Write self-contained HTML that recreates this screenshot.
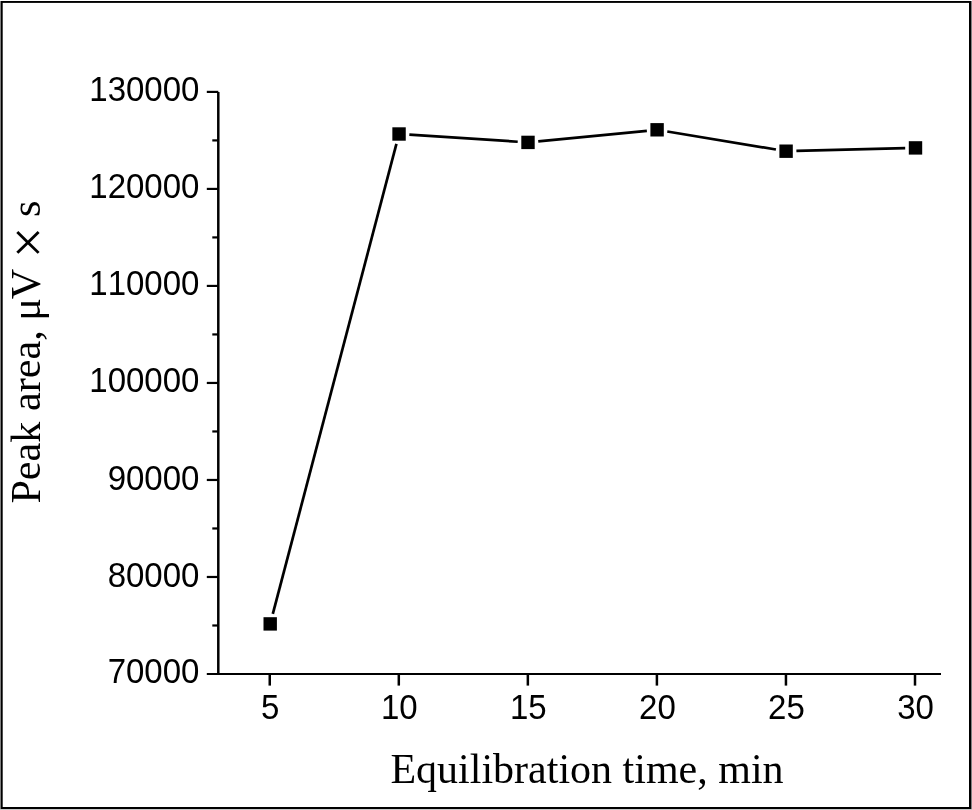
<!DOCTYPE html>
<html><head><meta charset="utf-8"><title>Peak area vs equilibration time</title>
<style>
html,body{margin:0;padding:0;background:#fff;}
body{width:972px;height:810px;overflow:hidden;}
svg{display:block;will-change:transform;}
text{font-kerning:none;font-feature-settings:"kern" 0;}
.n{font-family:"Liberation Sans",Arial,sans-serif;font-size:33px;fill:#000;}
.yt text{font-family:"Liberation Serif","Times New Roman",serif;font-size:42.2px;fill:#000;}
.yt text.mul{font-size:56px;}
.t{font-family:"Liberation Serif","Times New Roman",serif;font-size:42px;fill:#000;}
</style></head><body>
<svg width="972" height="810" viewBox="0 0 972 810">
<rect width="972" height="810" fill="#fff"/>
<rect x="0" y="1" width="1" height="808" fill="#808080"/>
<rect x="1" y="1" width="969" height="1.9" fill="#000"/>
<rect x="1" y="1" width="1.7" height="808" fill="#000"/>
<rect x="969" y="1" width="2" height="808" fill="#000"/>
<rect x="1" y="807" width="970" height="2" fill="#000"/>
<rect x="971" y="1" width="1" height="808" fill="#808080"/>
<rect x="0" y="809" width="972" height="1" fill="#c8c8c8"/>
<line x1="218.3" y1="92.00" x2="218.3" y2="674.00" stroke="#000" stroke-width="2.5"/>
<line x1="206.8" y1="674.0" x2="941" y2="674.0" stroke="#000" stroke-width="2.2"/>
<line x1="212.3" y1="625.49" x2="218.3" y2="625.49" stroke="#000" stroke-width="2.2"/>
<text transform="translate(199.4,682.80) scale(1,1.04)" text-anchor="end" class="n">70000</text>
<line x1="206.8" y1="576.98" x2="218.3" y2="576.98" stroke="#000" stroke-width="2.2"/>
<line x1="212.3" y1="528.47" x2="218.3" y2="528.47" stroke="#000" stroke-width="2.2"/>
<text transform="translate(199.4,586.93) scale(1,1.04)" text-anchor="end" class="n">80000</text>
<line x1="206.8" y1="479.97" x2="218.3" y2="479.97" stroke="#000" stroke-width="2.2"/>
<line x1="212.3" y1="431.46" x2="218.3" y2="431.46" stroke="#000" stroke-width="2.2"/>
<text transform="translate(199.4,489.77) scale(1,1.04)" text-anchor="end" class="n">90000</text>
<line x1="206.8" y1="382.95" x2="218.3" y2="382.95" stroke="#000" stroke-width="2.2"/>
<line x1="212.3" y1="334.44" x2="218.3" y2="334.44" stroke="#000" stroke-width="2.2"/>
<text transform="translate(199.4,391.85) scale(1,1.04)" text-anchor="end" class="n">100000</text>
<line x1="206.8" y1="285.93" x2="218.3" y2="285.93" stroke="#000" stroke-width="2.2"/>
<line x1="212.3" y1="237.42" x2="218.3" y2="237.42" stroke="#000" stroke-width="2.2"/>
<text transform="translate(199.4,294.83) scale(1,1.04)" text-anchor="end" class="n">110000</text>
<line x1="206.8" y1="188.92" x2="218.3" y2="188.92" stroke="#000" stroke-width="2.2"/>
<line x1="212.3" y1="140.41" x2="218.3" y2="140.41" stroke="#000" stroke-width="2.2"/>
<text transform="translate(199.4,197.92) scale(1,1.04)" text-anchor="end" class="n">120000</text>
<line x1="206.8" y1="91.90" x2="218.3" y2="91.90" stroke="#000" stroke-width="2.2"/>
<text transform="translate(199.4,100.70) scale(1,1.04)" text-anchor="end" class="n">130000</text>
<line x1="269.75" y1="674.0" x2="269.75" y2="685.6" stroke="#000" stroke-width="2.5"/>
<text transform="translate(270.25,718.7) scale(1,1.04)" text-anchor="middle" class="n">5</text>
<line x1="398.80" y1="674.0" x2="398.80" y2="685.6" stroke="#000" stroke-width="2.5"/>
<text transform="translate(399.30,718.7) scale(1,1.04)" text-anchor="middle" class="n">10</text>
<line x1="527.85" y1="674.0" x2="527.85" y2="685.6" stroke="#000" stroke-width="2.5"/>
<text transform="translate(528.35,718.7) scale(1,1.04)" text-anchor="middle" class="n">15</text>
<line x1="656.90" y1="674.0" x2="656.90" y2="685.6" stroke="#000" stroke-width="2.5"/>
<text transform="translate(657.40,718.7) scale(1,1.04)" text-anchor="middle" class="n">20</text>
<line x1="785.95" y1="674.0" x2="785.95" y2="685.6" stroke="#000" stroke-width="2.5"/>
<text transform="translate(786.45,718.7) scale(1,1.04)" text-anchor="middle" class="n">25</text>
<line x1="915.00" y1="674.0" x2="915.00" y2="685.6" stroke="#000" stroke-width="2.5"/>
<text transform="translate(915.50,718.7) scale(1,1.04)" text-anchor="middle" class="n">30</text>
<line x1="272.82" y1="613.94" x2="396.43" y2="143.96" stroke="#000" stroke-width="2.7"/>
<line x1="409.33" y1="134.67" x2="517.72" y2="141.73" stroke="#000" stroke-width="2.7"/>
<line x1="538.25" y1="141.40" x2="646.85" y2="130.80" stroke="#000" stroke-width="2.7"/>
<line x1="667.26" y1="131.49" x2="775.94" y2="149.51" stroke="#000" stroke-width="2.7"/>
<line x1="796.40" y1="150.94" x2="905.20" y2="148.16" stroke="#000" stroke-width="2.7"/>
<rect x="263.50" y="617.20" width="13.4" height="13.4" fill="#000"/>
<rect x="392.35" y="127.30" width="13.4" height="13.4" fill="#000"/>
<rect x="521.30" y="135.70" width="13.4" height="13.4" fill="#000"/>
<rect x="650.40" y="123.10" width="13.4" height="13.4" fill="#000"/>
<rect x="779.40" y="144.50" width="13.4" height="13.4" fill="#000"/>
<rect x="908.80" y="141.20" width="13.4" height="13.4" fill="#000"/>
<text x="587" y="783" text-anchor="middle" class="t">Equilibration time, min</text>
<g transform="translate(40.4,0) rotate(-90)" class="yt"><text x="-503.6" y="0">Peak area,</text><text transform="translate(-320.8,0) scale(1,0.93)" x="0" y="0">μ</text><text x="-299.2" y="0">V</text><text x="-258.2" y="6.8" class="mul">×</text><text x="-216.9" y="0">s</text></g>
</svg>
</body></html>
